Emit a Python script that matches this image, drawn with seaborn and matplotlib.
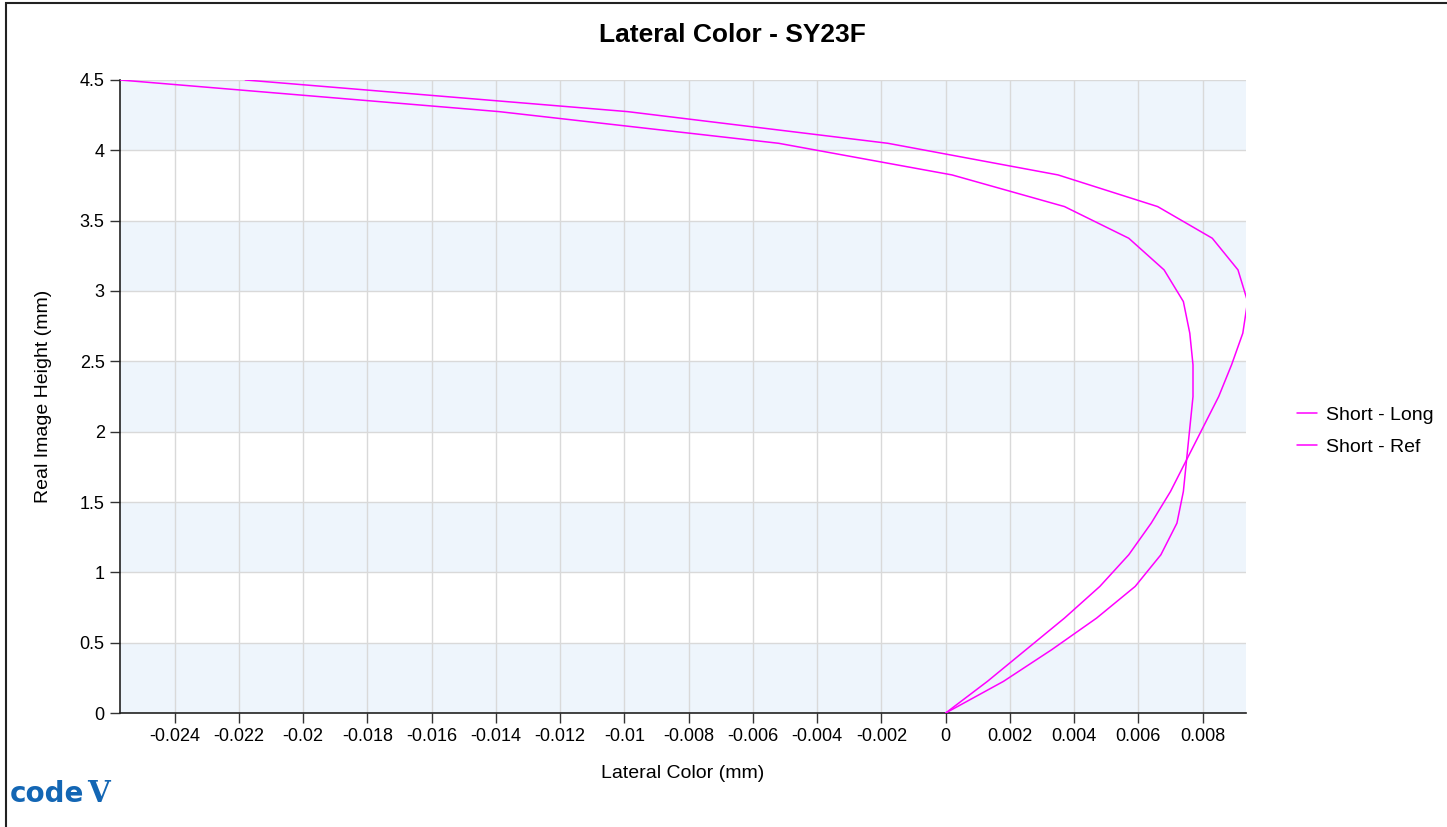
import matplotlib
matplotlib.use("Agg")
import matplotlib.pyplot as plt
import pandas as pd
import seaborn as sns
from matplotlib.patches import Rectangle

# image heights (mm)
heights = [0.0, 0.225, 0.45, 0.675, 0.9, 1.125, 1.35, 1.575, 1.8, 2.025, 2.25,
           2.475, 2.7, 2.925, 3.15, 3.375, 3.6, 3.825, 4.05, 4.275, 4.5]

# lateral color (mm)
short_long = [0.0, 0.0013, 0.0025, 0.0037, 0.0048, 0.0057, 0.0064, 0.0070, 0.0075,
              0.0080, 0.0085, 0.0089, 0.00925, 0.0094, 0.0091, 0.0083, 0.0066,
              0.0035, -0.0018, -0.0099, -0.0218]
short_ref = [0.0, 0.0018, 0.0033, 0.0047, 0.0059, 0.0067, 0.0072, 0.0074, 0.0075,
             0.0076, 0.0077, 0.0077, 0.0076, 0.0074, 0.0068, 0.0057, 0.0037,
             0.0002, -0.0052, -0.0139, -0.0257]

series_names = ["Short - Long", "Short - Ref"]

x_ticks = [-0.024, -0.022, -0.02, -0.018, -0.016, -0.014, -0.012, -0.01, -0.008,
           -0.006, -0.004, -0.002, 0, 0.002, 0.004, 0.006, 0.008]
y_ticks = [0, 0.5, 1, 1.5, 2, 2.5, 3, 3.5, 4, 4.5]

df = pd.concat([
    pd.DataFrame({"lat": short_long, "h": heights, "series": series_names[0]}),
    pd.DataFrame({"lat": short_ref, "h": heights, "series": series_names[1]}),
])

sns.set_style("white")
plt.rcParams["font.family"] = ["Liberation Sans", "DejaVu Sans"]
plt.rcParams["text.color"] = "black"
plt.rcParams["axes.labelcolor"] = "black"
plt.rcParams["xtick.color"] = "black"
plt.rcParams["ytick.color"] = "black"

fig = plt.figure(figsize=(14.47, 8.27), dpi=100)
ax = fig.add_axes([0.0829, 0.1378, 0.7782, 0.7655])

# alternating bands
for lo in y_ticks[:-1:2]:
    ax.axhspan(lo, lo + 0.5, color="#eef5fc", zorder=0, lw=0)

ax.grid(True, color="#d9d9d9", linewidth=1.0, zorder=1)
ax.set_axisbelow(True)

sns.lineplot(
    data=df, x="lat", y="h", hue="series", sort=False, estimator=None,
    palette=["#ff00ff", "#ff00ff"], linewidth=1.1, ax=ax, zorder=3,
)

ax.set_xlim(-0.0257, 0.00935)
ax.set_ylim(0, 4.5)
ax.set_xticks(x_ticks)
ax.set_xticklabels([f"{v:g}" for v in x_ticks], fontsize=13)
ax.set_yticks(y_ticks)
ax.set_yticklabels([f"{v:g}" for v in y_ticks], fontsize=13)
ax.tick_params(axis="both", direction="out", length=7, width=1, color="#333333",
               bottom=True, left=True, pad=4)

for side in ["top", "right"]:
    ax.spines[side].set_visible(False)
for side in ["left", "bottom"]:
    ax.spines[side].set_color("#222222")
    ax.spines[side].set_linewidth(1.2)

fig.suptitle("Lateral Color - SY23F", x=732 / 1447, y=0.972, fontsize=19,
             fontweight="bold")
ax.set_xlabel("Lateral Color (mm)", fontsize=14, labelpad=14)
ax.set_ylabel("Real Image Height (mm)", fontsize=14, labelpad=20)

ax.legend(loc="center left", bbox_to_anchor=(1.03, 0.445), frameon=False,
          fontsize=14, handlelength=1.0, handletextpad=0.5, labelspacing=0.75)

# logo and outer frame
fig.text(10 / 1447, 0.03, "code", color="#1366b4", fontsize=20, fontweight="heavy",
         family=["DejaVu Sans"])
fig.text(87 / 1447, 0.03, "V", color="#1366b4", fontsize=21, fontweight="bold",
         family=["DejaVu Serif"])
fig.patches.append(Rectangle((0.004, -0.01), 1.2, 1.006, transform=fig.transFigure,
                             fill=False, edgecolor="#222222", linewidth=1.5))

fig.savefig("out.png", dpi=100)
